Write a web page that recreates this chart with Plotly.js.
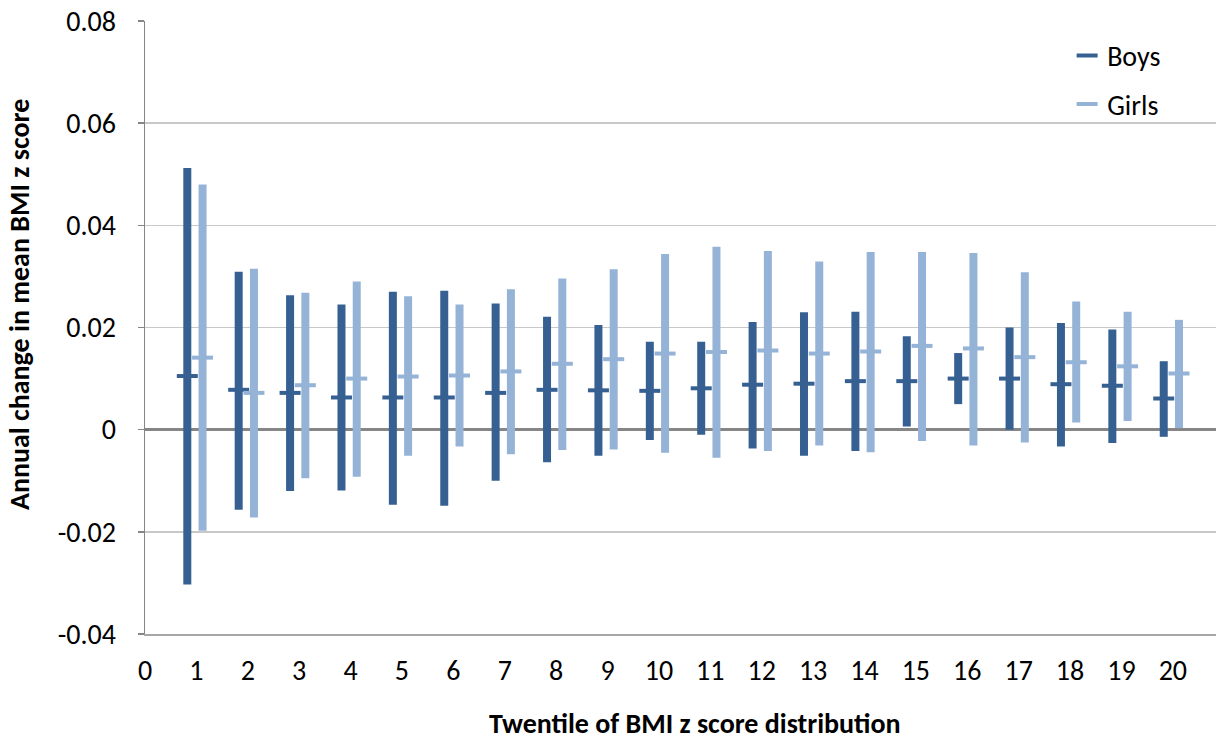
<!DOCTYPE html>
<html>
<head>
<meta charset="utf-8">
<script src="https://cdn.plot.ly/plotly-3.0.1.min.js"></script>
<style>html,body{margin:0;padding:0;background:#fff;}#chart{width:1216px;height:742px;}</style>
</head>
<body>
<div id="chart"></div>
<script>
const twentiles = [1,2,3,4,5,6,7,8,9,10,11,12,13,14,15,16,17,18,19,20];
const xTickLabels = ['0','1','2','3','4','5','6','7','8','9','10','11','12','13','14','15','16','17','18','19','20'];

const boysMean = [0.0105,0.0078,0.0072,0.0063,0.0063,0.0063,0.0072,0.0078,0.0077,0.0076,0.0081,0.0088,0.0090,0.0095,0.0095,0.0100,0.0100,0.0089,0.0086,0.0061];
const boysHigh = [0.0512,0.0309,0.0263,0.0245,0.0270,0.0272,0.0247,0.0221,0.0205,0.0172,0.0172,0.0211,0.0230,0.0231,0.0183,0.0150,0.0200,0.0209,0.0196,0.0134];
const boysLow  = [-0.0303,-0.0157,-0.0120,-0.0119,-0.0147,-0.0149,-0.0100,-0.0064,-0.0051,-0.0020,-0.0010,-0.0037,-0.0051,-0.0042,0.0006,0.0050,0.0000,-0.0033,-0.0026,-0.0014];

const girlsMean = [0.0141,0.0072,0.0087,0.0100,0.0104,0.0106,0.0114,0.0129,0.0138,0.0149,0.0152,0.0155,0.0149,0.0153,0.0164,0.0159,0.0142,0.0132,0.0124,0.0110];
const girlsHigh = [0.0480,0.0315,0.0268,0.0290,0.0261,0.0245,0.0275,0.0296,0.0314,0.0344,0.0358,0.0350,0.0329,0.0348,0.0348,0.0346,0.0308,0.0251,0.0231,0.0215];
const girlsLow  = [-0.0198,-0.0172,-0.0095,-0.0092,-0.0051,-0.0033,-0.0048,-0.0040,-0.0039,-0.0045,-0.0055,-0.0042,-0.0031,-0.0044,-0.0022,-0.0031,-0.0025,0.0014,0.0017,0.0003];

const boysColor = '#376092';
const girlsColor = '#95B3D7';
const FONT = 'Carlito, Lato, sans-serif';
const FS = 28;

function series(name, offset, mean, high, low, color, group) {
  return {
    type: 'scatter', mode: 'markers', name: name, legendgroup: group,
    x: twentiles.map(t => t + offset),
    y: mean,
    error_y: {
      type: 'data', symmetric: false,
      array: high.map((h, i) => h - mean[i]),
      arrayminus: low.map((l, i) => mean[i] - l),
      color: color, thickness: 8, width: 0
    },
    marker: { symbol: 'line-ew', size: 15, color: color, line: { color: color, width: 4 } },
    hoverinfo: 'skip', cliponaxis: false
  };
}

const data = [
  series('Boys', -0.177, boysMean, boysHigh, boysLow, boysColor, 'b'),
  series('Girls', 0.12, girlsMean, girlsHigh, girlsLow, girlsColor, 'g')
];

const layout = {
  width: 1216, height: 742,
  margin: { l: 145, r: 0, t: 21, b: 108, pad: 0 },
  paper_bgcolor: '#fff', plot_bgcolor: '#fff',
  font: { family: FONT, size: FS, color: '#000' },
  showlegend: true,
  legend: {
    x: 0.861, xanchor: 'left', y: 0.984, yanchor: 'top',
    font: { family: FONT, size: FS, color: '#000' },
    tracegroupgap: 9, bgcolor: 'rgba(0,0,0,0)'
  },
  xaxis: {
    range: [0, 20.84],
    tickmode: 'array',
    tickvals: xTickLabels.map(Number),
    ticktext: xTickLabels,
    ticks: '', showgrid: false, zeroline: false,
    showline: true, linecolor: '#a6a6a6', linewidth: 1.5,
    tickfont: { family: FONT, size: FS, color: '#000' },
    ticklabelstandoff: 11, fixedrange: true
  },
  yaxis: {
    range: [-0.04, 0.08],
    tickmode: 'array',
    tickvals: [-0.04,-0.02,0,0.02,0.04,0.06,0.08],
    ticktext: ['-0.04','-0.02','0','0.02','0.04','0.06','0.08'],
    ticks: 'outside', ticklen: 6, tickcolor: '#868686', tickwidth: 1.5,
    showgrid: true, gridcolor: '#c8c8c8', gridwidth: 1.5,
    zeroline: true, zerolinecolor: '#868686', zerolinewidth: 3,
    showline: true, linecolor: '#868686', linewidth: 1.5,
    tickfont: { family: FONT, size: FS, color: '#000' },
    ticklabelstandoff: 16, fixedrange: true
  },
  annotations: [
    { text: '<b>Twentile of BMI z score distribution</b>', xref: 'paper', yref: 'paper',
      x: 0.5135, y: -0.146, xanchor: 'center', yanchor: 'middle', showarrow: false,
      font: { family: FONT, size: FS, color: '#000' } },
    { text: '<b>Annual change in mean BMI z score</b>', xref: 'paper', yref: 'paper',
      x: -0.1165, y: 0.537, xanchor: 'center', yanchor: 'middle', showarrow: false, textangle: -90,
      font: { family: FONT, size: FS, color: '#000' } }
  ]
};

Plotly.newPlot('chart', data, layout, { displayModeBar: false, staticPlot: true });
</script>
</body>
</html>
